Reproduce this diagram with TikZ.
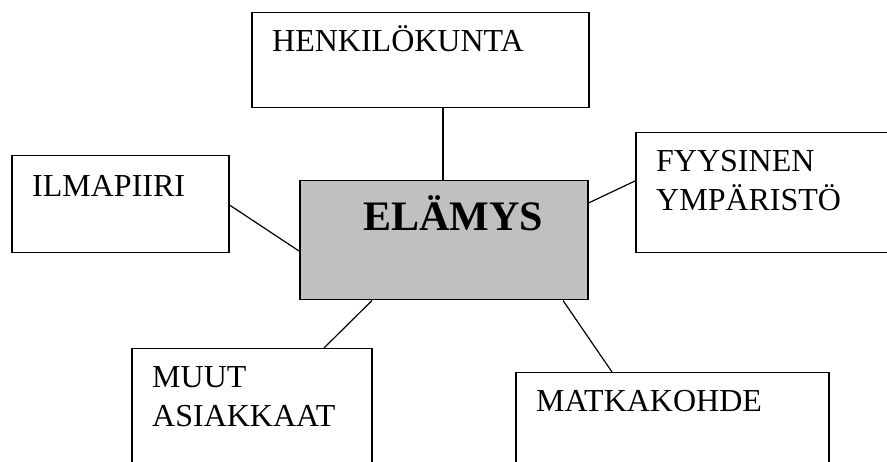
\documentclass[tikz,border=0pt]{standalone}
\usepackage{fontspec}
\setmainfont{Liberation Serif}
\usetikzlibrary{calc}
\definecolor{boxgray}{HTML}{C0C0C0}
\tikzset{
  box/.style={draw=black, line width=1.5pt, fill=white, rectangle, inner sep=0pt, anchor=north west},
  hub/.style={box, fill=boxgray},
  label/.style={anchor=base west, inner sep=0pt, font=\fontsize{32}{39}\selectfont},
  hublabel/.style={anchor=base west, inner sep=0pt, font=\fontsize{42}{50}\selectfont\bfseries},
  link/.style={draw=black, line width=1.2pt}
}
\begin{document}
\begin{tikzpicture}[x=1pt,y=1pt]
  \useasboundingbox (0,0) rectangle (887,461);
  \clip (0,0) rectangle (887,461);
  \fill[white] (0,0) rectangle (887,461);

  % boxes
  \node[box, minimum width=337pt, minimum height=95pt]  (henk)  at (251,449) {};
  \node[box, minimum width=217pt, minimum height=97pt]  (ilma)  at (11,306)  {};
  \node[hub, minimum width=288pt, minimum height=119pt] (elamys) at (299,281) {};
  \node[box, minimum width=280pt, minimum height=120pt] (fyys)  at (635,329) {};
  \node[box, minimum width=240pt, minimum height=140pt] (muut)  at (131,113) {};
  \node[box, minimum width=313pt, minimum height=120pt] (matka) at (515,89)  {};

  % connectors
  \draw[link] ($(henk.south west)+(192,0)$) -- ($(elamys.north west)+(144,0)$);
  \draw[link] ($(ilma.north east)+(0,-50)$) -- ($(elamys.north west)+(0,-71)$);
  \draw[link] ($(elamys.north east)+(0,-23)$) -- ($(fyys.north west)+(0,-49)$);
  \draw[link] ($(muut.north west)+(193,0)$) -- ($(elamys.south west)+(73,0)$);
  \draw[link] ($(matka.north west)+(97,0)$) -- ($(elamys.south west)+(264,0)$);

  % texts
  \node[label] (thenk) at ($(henk.north west)+(21,-40)$) {HENKILÖKUNTA};
  \node[label] (tilma) at ($(ilma.north west)+(21,-42)$) {ILMAPIIRI};
  \node[label] (tfyys) at ($(fyys.north west)+(21,-40)$)
    {\begin{tabular}[t]{@{}l@{}}FYYSINEN\\YMPÄRISTÖ\end{tabular}};
  \node[label] (tmuut) at ($(muut.north west)+(21,-40)$)
    {\begin{tabular}[t]{@{}l@{}}MUUT\\ASIAKKAAT\end{tabular}};
  \node[label] (tmatka) at ($(matka.north west)+(21,-40)$) {MATKAKOHDE};
  \node[hublabel] (telamys) at ($(elamys.north west)+(64,-51)$) {ELÄMYS};
\end{tikzpicture}
\end{document}
